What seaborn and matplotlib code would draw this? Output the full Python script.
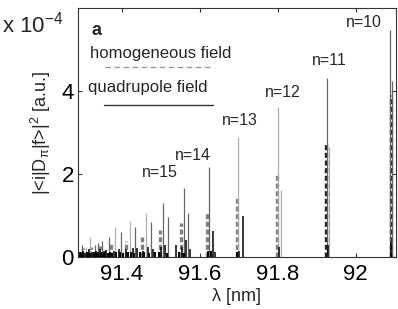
import matplotlib
matplotlib.use("Agg")
import matplotlib.pyplot as plt
import seaborn as sns

# -----------------------------
# DATA  (line strengths in units of 1e-4 a.u.)
# -----------------------------
# homogeneous field (dashed)
homog_dark_lam = [92.090, 91.924]
homog_dark_amp = [3.90, 2.77]
homog_lam = [91.798, 91.696, 91.619, 91.552, 91.498, 91.452, 91.410, 91.372, 91.345, 91.322, 91.302]
homog_amp = [1.98, 1.47, 1.08, 0.82, 0.65, 0.48, 0.39, 0.32, 0.27, 0.24, 0.22]

# quadrupole field (solid), split by grey shade
quad_dark_lam = [92.088, 92.093, 91.926, 91.624, 91.560, 91.570, 91.506, 91.519,
                 91.474, 91.435, 91.399, 91.367, 91.350, 91.339, 91.331, 91.298]
quad_dark_amp = [5.47, 4.24, 4.31, 2.17, 1.66, 1.06, 1.30, 0.96,
                 0.84, 0.73, 0.60, 0.47, 0.39, 0.34, 0.30, 0.29]
quad_light_lam = [91.800, 91.699, 91.932, 91.807, 91.462, 91.420, 91.384, 91.318, 91.308]
quad_light_amp = [3.61, 2.89, 2.65, 1.62, 1.07, 0.87, 0.73, 0.48, 0.25]
quad_black_lam = [91.711, 91.634, 92.091, 91.928, 91.803, 91.565, 91.512, 91.468,
                  91.428, 91.392, 91.360, 91.335, 91.315, 91.300, 91.295, 91.305,
                  91.325, 91.345, 91.355, 91.380, 91.410, 91.440, 91.455, 91.480,
                  91.500, 91.540, 91.555, 91.575, 91.640, 91.700]
quad_black_amp = [0.98, 0.63, 0.36, 0.30, 0.24, 0.40, 0.30, 0.25,
                  0.22, 0.20, 0.18, 0.15, 0.20, 0.15, 0.12, 0.10,
                  0.12, 0.20, 0.15, 0.15, 0.20, 0.22, 0.15, 0.20,
                  0.25, 0.30, 0.25, 0.20, 0.12, 0.15]
# weak lines forming the dark band near zero
band_lam = [91.292, 91.297, 91.302, 91.310, 91.314, 91.320, 91.328, 91.333,
            91.340, 91.348, 91.352, 91.358, 91.364, 91.370, 91.376, 91.386,
            91.395, 91.403, 91.415, 91.424, 91.432, 91.447, 91.458, 91.470,
            91.485, 91.495, 91.515, 91.548, 91.560, 91.620, 91.630, 91.696]
band_amp = [0.12, 0.10, 0.14, 0.11, 0.13, 0.09, 0.12, 0.10,
            0.13, 0.11, 0.10, 0.12, 0.09, 0.12, 0.10, 0.11,
            0.12, 0.10, 0.11, 0.12, 0.10, 0.12, 0.11, 0.10,
            0.12, 0.13, 0.10, 0.12, 0.10, 0.15, 0.14, 0.12]

# manifold labels
n_labels = ["n=10", "n=11", "n=12", "n=13", "n=14", "n=15"]
n_lam = [92.020, 91.931, 91.814, 91.703, 91.583, 91.498]
n_amp = [5.54, 4.63, 3.85, 3.18, 2.34, 1.93]

# -----------------------------
# STYLE
# -----------------------------
sns.set_style("ticks")
plt.rcParams['font.family'] = ['Liberation Sans', 'DejaVu Sans']
plt.rcParams['mathtext.default'] = 'regular'

fig = plt.figure(figsize=(3.98, 3.09), dpi=100)
ax = fig.add_axes([78/398, 52/309, 318/398, 249/309])

# -----------------------------
# STICK SPECTRA
# -----------------------------
ax.vlines(homog_lam, 0, homog_amp, colors='#808080', linewidth=2.4,
          linestyles=(0, (1.5, 0.8)))
ax.vlines(homog_dark_lam, 0, homog_dark_amp, colors='#222222', linewidth=2.4,
          linestyles=(0, (1.5, 0.8)))
ax.vlines(quad_light_lam, 0, quad_light_amp, colors='#b0b0b0', linewidth=0.9)
ax.vlines(quad_dark_lam, 0, quad_dark_amp, colors='#666666', linewidth=0.9)
ax.vlines(quad_black_lam, 0, quad_black_amp, colors='black', linewidth=1.1)
ax.vlines(band_lam, 0, band_amp, colors='black', linewidth=1.4)

for lab, x, y in zip(n_labels, n_lam, n_amp):
    ax.text(x, y, lab, fontsize=11.5, ha='center', va='baseline')

# legend drawn MATLAB style (text above line)
ax.text(0.044, 0.892, "a", transform=ax.transAxes, fontsize=13, fontweight='bold')
ax.text(0.038, 0.799, "homogeneous field", transform=ax.transAxes, fontsize=12)
ax.plot([0.085, 0.421], [0.763, 0.763], transform=ax.transAxes, color='#999999',
        linewidth=1, linestyle=(0, (4, 2.5)))
ax.text(0.031, 0.663, "quadrupole field", transform=ax.transAxes, fontsize=12)
ax.plot([0.082, 0.425], [0.612, 0.612], transform=ax.transAxes, color='#333333',
        linewidth=1)

# -----------------------------
# AXES
# -----------------------------
ax.set_xlim(91.288, 92.103)
ax.set_ylim(0, 6.0)
ax.set_xticks([91.4, 91.6, 91.8, 92.0])
ax.set_xticklabels(["91.4", "91.6", "91.8", "92"])
ax.set_yticks([0, 2, 4])
ax.tick_params(direction='in', length=3, width=0.8, labelsize=16,
               top=True, right=True, colors='#333333', labelcolor='black')
ax.tick_params(axis='x', pad=5)
ax.tick_params(axis='y', pad=3)
for s in ax.spines.values():
    s.set_linewidth(0.8)
    s.set_color('#333333')

ax.set_xlabel("λ [nm]", fontsize=13, labelpad=2)
ax.set_ylabel("|<i|D$_{π}$|f>|$^{2}$ [a.u.]", fontsize=13, labelpad=6)
fig.text(0.005, 1 - 32/309, "x 10$^{-4}$", fontsize=16, va='baseline', ha='left')

fig.savefig("out.png", dpi=100)
